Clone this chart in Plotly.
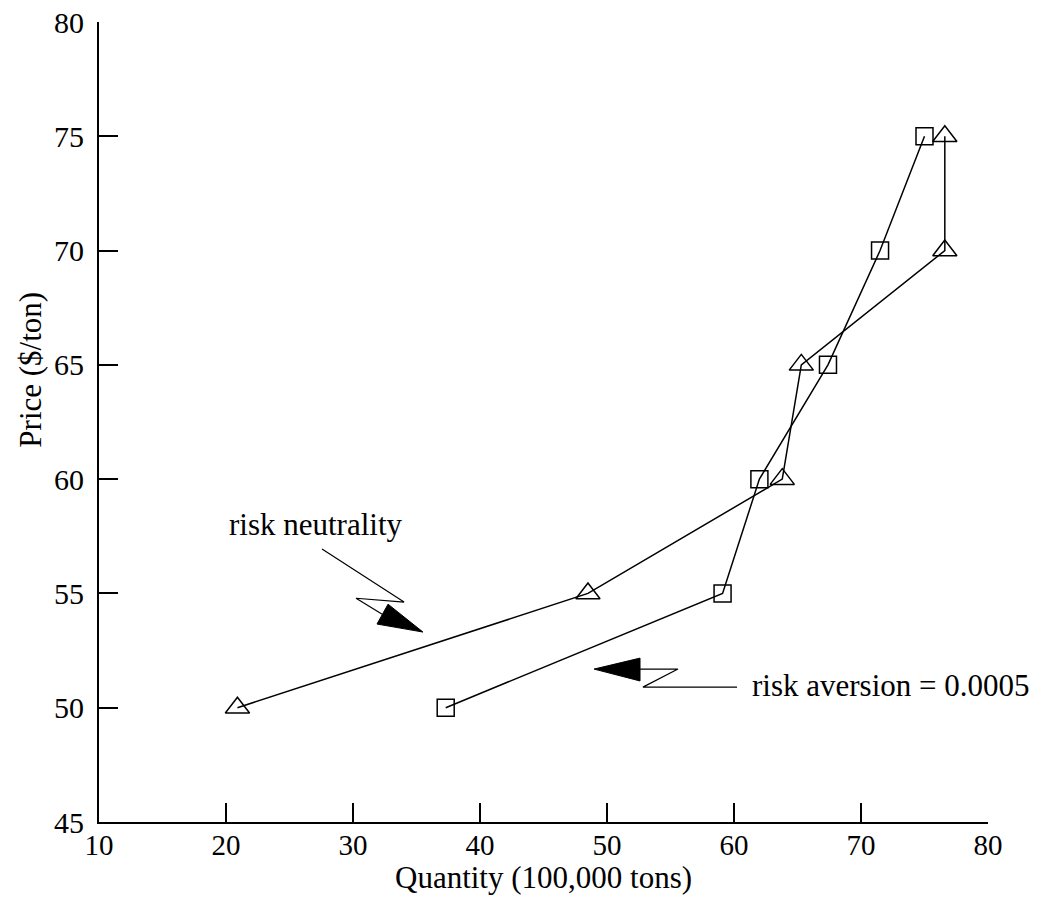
import plotly.graph_objects as go

# Data
price_levels = [50, 55, 60, 65, 70, 75]
qty_risk_neutral = [20.9, 48.5, 63.8, 65.3, 76.6, 76.6]
qty_risk_averse = [37.3, 59.1, 62.0, 67.4, 71.5, 75.0]

x_tick_vals = [10, 20, 30, 40, 50, 60, 70, 80]
y_tick_vals = [45, 50, 55, 60, 65, 70, 75, 80]
x_inner_ticks = [20, 30, 40, 50, 60, 70]
y_inner_ticks = [50, 55, 60, 65, 70, 75]

FONT = "Liberation Serif"

fig = go.Figure()
fig.add_trace(go.Scatter(
    x=qty_risk_neutral, y=price_levels, mode="lines+markers",
    line=dict(color="black", width=1.5),
    marker=dict(symbol="triangle-up-open", size=21, color="black", line=dict(width=1.5)),
    showlegend=False))
fig.add_trace(go.Scatter(
    x=qty_risk_averse, y=price_levels, mode="lines+markers",
    line=dict(color="black", width=1.5),
    marker=dict(symbol="square-open", size=17, color="black", line=dict(width=1.5)),
    showlegend=False))
# empty trace to host the overlay tick axes
fig.add_trace(go.Scatter(x=[], y=[], xaxis="x2", yaxis="y2", showlegend=False))

def path(points, close=False):
    s = "M " + " L ".join(f"{x},{y}" for x, y in points)
    return s + (" Z" if close else "")

# lightning arrow for "risk neutrality"
bolt1 = [(27.56, 56.94), (34.02, 54.62), (30.24, 54.79), (32.30, 54.09)]
head1 = [(32.76, 54.53), (31.89, 53.66), (35.51, 53.31)]
# lightning arrow for "risk aversion"
bolt2 = [(52.60, 51.69), (55.59, 51.69), (52.83, 50.90), (60.24, 50.90)]
head2 = [(48.98, 51.69), (52.60, 52.17), (52.60, 51.17)]

shapes = [
    dict(type="path", xref="x", yref="y", path=path(bolt1), line=dict(color="black", width=1.2)),
    dict(type="path", xref="x", yref="y", path=path(head1, True), fillcolor="black", line=dict(color="black", width=1)),
    dict(type="path", xref="x", yref="y", path=path(bolt2), line=dict(color="black", width=1.2)),
    dict(type="path", xref="x", yref="y", path=path(head2, True), fillcolor="black", line=dict(color="black", width=1)),
]

annotations = [
    dict(x=20.08, y=58.0, xref="x", yref="y", text="risk neutrality", showarrow=False,
         xanchor="left", yanchor="middle", font=dict(family=FONT, size=31, color="black")),
    dict(x=61.26, y=50.99, xref="x", yref="y", text="risk aversion = 0.0005", showarrow=False,
         xanchor="left", yanchor="middle", font=dict(family=FONT, size=31, color="black")),
    dict(x=-0.078, y=0.565, xref="paper", yref="paper", text="Price ($/ton)", showarrow=False,
         textangle=-90, xanchor="center", yanchor="middle",
         font=dict(family=FONT, size=31, color="black")),
    dict(x=0.5, y=0, xref="paper", yref="paper", text="Quantity (100,000 tons)", showarrow=False,
         xanchor="center", yanchor="middle", yshift=-55,
         font=dict(family=FONT, size=31, color="black")),
]

fig.update_layout(
    width=1045, height=909,
    margin=dict(l=99, r=57, t=22, b=87),
    paper_bgcolor="white", plot_bgcolor="white",
    font=dict(family=FONT, color="black"),
    shapes=shapes, annotations=annotations,
    xaxis=dict(range=[10, 80], tickmode="array", tickvals=x_tick_vals, automargin=False,
               showgrid=False, zeroline=False, showline=True, linecolor="black", linewidth=2,
               ticks="", ticklabelstandoff=-4, ticklabeloverflow="allow",
               tickfont=dict(family=FONT, size=29)),
    yaxis=dict(range=[45, 80], tickmode="array", tickvals=y_tick_vals, automargin=False,
               showgrid=False, zeroline=False, showline=True, linecolor="black", linewidth=2,
               ticks="", ticklabelstandoff=7, ticklabeloverflow="allow",
               tickfont=dict(family=FONT, size=30)),
    xaxis2=dict(overlaying="x", matches="x", anchor="y", range=[10, 80], tickmode="array",
                tickvals=x_inner_ticks, ticks="inside", ticklen=19, tickwidth=1.5, tickcolor="black",
                showticklabels=False, showgrid=False, zeroline=False, showline=False, automargin=False),
    yaxis2=dict(overlaying="y", matches="y", anchor="x", range=[45, 80], tickmode="array",
                tickvals=y_inner_ticks, ticks="inside", ticklen=19, tickwidth=1.5, tickcolor="black",
                showticklabels=False, showgrid=False, zeroline=False, showline=False, automargin=False),
)

fig.write_html("out.html")
